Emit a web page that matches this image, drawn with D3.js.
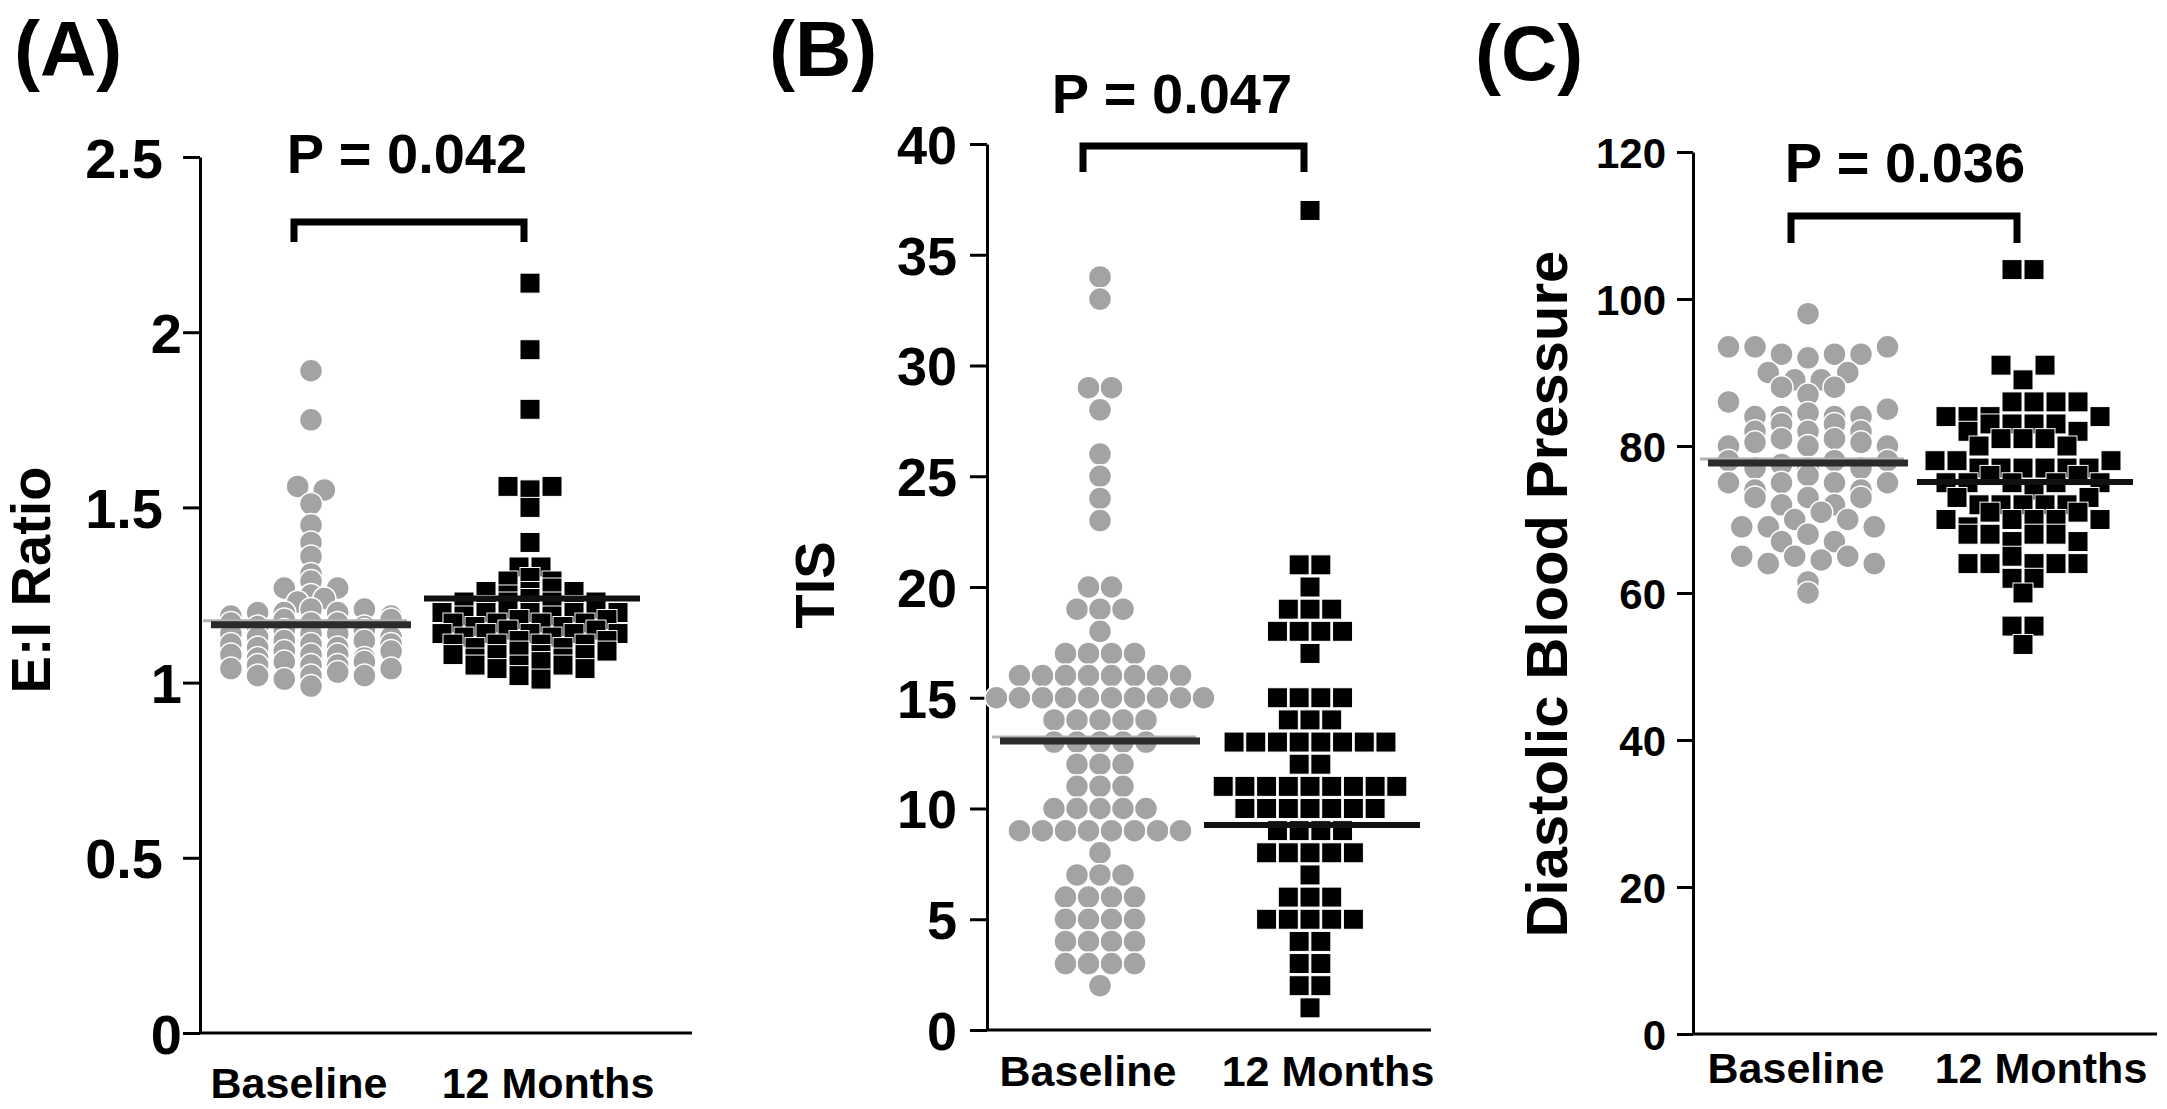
<!DOCTYPE html>
<html>
<head>
<meta charset="utf-8">
<script src="https://cdn.jsdelivr.net/npm/d3@7"></script>
<style>
  html, body { margin: 0; padding: 0; background: #fff; }
  svg text { font-family: "Liberation Sans", Arial, sans-serif; font-weight: bold; fill: #000; }
</style>
</head>
<body>
<svg id="chart" width="2167" height="1109"></svg>
<script>
const groups = ['Baseline', '12 Months'];

// (A) E:I ratio
const eiBaseline = [1.89, 1.75, 1.56, 1.55, 1.51, 1.45, 1.40, 1.36, 1.31, 1.29,
  1.27, 1.25, 1.27,
  1.23, 1.24,
  1.19, 1.20, 1.20, 1.21, 1.20, 1.21, 1.19,
  1.17, 1.16, 1.18, 1.17, 1.17, 1.16, 1.18,
  1.14, 1.13, 1.15, 1.14, 1.14, 1.15, 1.13,
  1.11, 1.10, 1.12, 1.11, 1.10, 1.12, 1.11,
  1.08, 1.07, 1.09, 1.08, 1.08, 1.07, 1.09,
  1.04, 1.05, 1.06, 1.05, 1.05, 1.06, 1.04,
  1.02, 1.01, 1.02, 1.03, 1.02,
  0.99];
const ei12Months = [2.14, 1.95, 1.78, 1.56, 1.55, 1.56, 1.50, 1.40, 1.33, 1.33, 1.29, 1.30, 1.29,
  1.26, 1.25, 1.26, 1.27, 1.26,
  1.23, 1.22, 1.23, 1.24, 1.23, 1.22, 1.23,
  1.20, 1.19, 1.20, 1.21, 1.20, 1.19, 1.20, 1.21, 1.20,
  1.17, 1.16, 1.17, 1.18, 1.17, 1.16, 1.17, 1.18,
  1.14, 1.13, 1.14, 1.15, 1.14, 1.13, 1.14, 1.15, 1.14,
  1.11, 1.10, 1.11, 1.12, 1.11, 1.10, 1.11, 1.12,
  1.08, 1.07, 1.08, 1.09, 1.08, 1.07, 1.08, 1.09,
  1.05, 1.04, 1.05, 1.06, 1.05, 1.04,
  1.02, 1.01];
const eiMeans = [1.165, 1.24];
const eiTicks = [0, 0.5, 1, 1.5, 2, 2.5];

// (B) TIS
const tisBaseline = [34, 33, 29, 29, 28, 26, 25, 24, 23, 20, 20, 19, 19, 19, 18,
  17, 17, 17, 17,
  16, 16, 16, 16, 16, 16, 16, 16,
  15, 15, 15, 15, 15, 15, 15, 15, 15, 15,
  14, 14, 14, 14, 14,
  13, 13, 13, 13, 13,
  12, 12, 12,
  11, 11, 11,
  10, 10, 10, 10, 10,
  9, 9, 9, 9, 9, 9, 9, 9,
  8,
  7, 7, 7,
  6, 6, 6, 6,
  5, 5, 5, 5,
  4, 4, 4, 4,
  3, 3, 3, 3,
  2];
const tis12Months = [37, 21, 21, 20, 19, 19, 19, 18, 18, 18, 18, 17,
  15, 15, 15, 15,
  14, 14, 14,
  13, 13, 13, 13, 13, 13, 13, 13,
  12, 12,
  11, 11, 11, 11, 11, 11, 11, 11, 11,
  10, 10, 10, 10, 10, 10, 10,
  9, 9, 9, 9,
  8, 8, 8, 8, 8,
  7,
  6, 6, 6,
  5, 5, 5, 5, 5,
  4, 4,
  3, 3,
  2, 2,
  1];
const tisMeans = [13.05, 9.25];
const tisTicks = [0, 5, 10, 15, 20, 25, 30, 35, 40];

// (C) Diastolic blood pressure
const dbpBaseline = [98,
  93.5, 93.5, 92.5, 92, 92.5, 92.5, 93.5,
  90, 89, 89, 90,
  88, 87, 88,
  86, 84, 84, 84.5, 84, 84, 85,
  82, 83, 82, 83, 82,
  80, 80.5, 81, 80, 81, 80.5, 80,
  78, 77, 77.5, 77, 78, 77, 78,
  75, 74, 75, 76, 75, 74, 75,
  73, 72, 73, 72, 73,
  69, 69, 70, 71, 70, 69,
  67, 68, 67,
  65, 64, 65, 64.5, 65, 64,
  61.5,
  60];
const dbp12Months = [104, 104,
  91, 89, 91,
  84, 84, 84, 86, 86, 86, 86, 84,
  82, 83, 83, 83, 83, 82,
  80, 81, 81, 81, 80,
  78, 78, 77, 77, 77, 77, 77, 77, 78,
  75, 75, 76, 75, 74, 75, 76, 75,
  73, 72, 72, 72, 72, 72, 73,
  70, 69, 71, 70, 70, 70, 71, 70,
  68, 68, 67, 68, 68, 67,
  64, 64, 65, 64, 64, 64,
  62, 62,
  60,
  55.5, 55.5,
  53];
const dbpMeans = [77.7, 75.1];
const dbpTicks = [0, 20, 40, 60, 80, 100, 120];

const panelLabels = ['(A)', '(B)', '(C)'];
const axisTitles = ['E:I Ratio', 'TIS', 'Diastolic Blood Pressure'];
const pValues = ['P = 0.042', 'P = 0.047', 'P = 0.036'];

// layout of the three panels (pixels)
const panels = [
  { base: eiBaseline, month: ei12Months, means: eiMeans, ticks: eiTicks, domain: [0, 2.5], step: 0.03,
    axisX: 200, xEnd: 692, yTop: 157, yBottom: 1033, band: [111, 330], tickLen: 17, tickFont: 56,
    gapCircle: 26.7, gapSquare: 22,
    labelPad: d => Number.isInteger(d) ? 1 : 20,
    label: { x: 14, y: 76 }, title: { x: 50, y: 580, size: 56 },
    p: { x: 407, y: 173 }, bracket: { y: 222, leg: 242 }, xLabelY: 1098 },
  { base: tisBaseline, month: tis12Months, means: tisMeans, ticks: tisTicks, domain: [0, 40], step: 1,
    axisX: 987, xEnd: 1431, yTop: 144, yBottom: 1030, band: [113, 323], tickLen: 17, tickFont: 54,
    gapCircle: 23, gapSquare: 21.7,
    labelPad: d => 13,
    label: { x: 769, y: 76 }, title: { x: 834, y: 585, size: 56 },
    p: { x: 1172, y: 113 }, bracket: { y: 146, leg: 172 }, xLabelY: 1086 },
  { base: dbpBaseline, month: dbp12Months, means: dbpMeans, ticks: dbpTicks, domain: [0, 120], step: 2.5,
    axisX: 1693, xEnd: 2157, yTop: 152, yBottom: 1034, band: [115, 330], tickLen: 16, tickFont: 42,
    gapCircle: 26.5, gapSquare: 22,
    labelPad: d => 11,
    label: { x: 1475, y: 80 }, title: { x: 1567, y: 594, size: 58 },
    p: { x: 1905, y: 182 }, bracket: { y: 216, leg: 243 }, xLabelY: 1083 }
];

// points with the same rounded value sit side by side in one row
function swarm (values, step, gap) {
  const rows = d3.group(values, v => Math.round(v / step + 1e-9));
  const out = [];
  rows.forEach(items => {
    items.forEach((v, k) => out.push({ v, dx: (k - (items.length - 1) / 2) * gap }));
  });
  return out;
}

const svg = d3.select('#chart');

panels.forEach((p, i) => {
  const g = svg.append('g');
  const y = d3.scaleLinear().domain(p.domain).range([p.yBottom, p.yTop]);
  const x = d3.scalePoint().domain(groups).range([p.axisX + p.band[0], p.axisX + p.band[1]]);

  // y axis
  const yAxis = d3.axisLeft(y)
    .tickValues(p.ticks)
    .tickSize(p.tickLen)
    .tickSizeOuter(0)
    .tickFormat(d3.format('~g'));
  const ax = g.append('g')
    .attr('transform', `translate(${p.axisX},0)`)
    .attr('font-family', null)
    .attr('font-size', null)
    .call(yAxis);
  ax.select('.domain').attr('stroke', '#000').attr('stroke-width', 3);
  ax.selectAll('.tick line').attr('stroke', '#000').attr('stroke-width', 3);
  ax.selectAll('.tick text')
    .attr('x', d => -(p.tickLen + p.labelPad(d)))
    .attr('dy', '0.36em')
    .style('font-size', p.tickFont + 'px');

  // x axis line and group labels
  g.append('line')
    .attr('x1', p.axisX).attr('x2', p.xEnd)
    .attr('y1', y(0)).attr('y2', y(0))
    .attr('stroke', '#000').attr('stroke-width', 3);
  g.selectAll('.xlabel')
    .data(groups)
    .join('text')
    .attr('class', 'xlabel')
    .attr('x', (d, k) => x(d) + (k === 0 ? -12 : 18))
    .attr('y', p.xLabelY)
    .attr('text-anchor', 'middle')
    .style('font-size', '43px')
    .text(d => d);

  // baseline: grey circles
  g.append('g').selectAll('circle')
    .data(swarm(p.base, p.step, p.gapCircle))
    .join('circle')
    .attr('cx', d => x(groups[0]) + d.dx)
    .attr('cy', d => y(d.v))
    .attr('r', 11.5)
    .attr('fill', '#a3a3a3')
    .attr('stroke', '#fff')
    .attr('stroke-width', 1.5);

  // 12 months: black squares
  g.append('g').selectAll('rect')
    .data(swarm(p.month, p.step, p.gapSquare))
    .join('rect')
    .attr('x', d => x(groups[1]) + d.dx - 10)
    .attr('y', d => y(d.v) - 10)
    .attr('width', 20)
    .attr('height', 20)
    .attr('fill', '#000')
    .attr('stroke', '#fff')
    .attr('stroke-width', 1);

  // mean lines
  const cb = x(groups[0]);
  const cm = x(groups[1]);
  g.append('line')
    .attr('x1', cb - 108).attr('x2', cb + 96)
    .attr('y1', y(p.means[0]) - 4).attr('y2', y(p.means[0]) - 4)
    .attr('stroke', '#b3b3b3').attr('stroke-width', 3);
  g.append('line')
    .attr('x1', cb - 100).attr('x2', cb + 100)
    .attr('y1', y(p.means[0])).attr('y2', y(p.means[0]))
    .attr('stroke', '#2b2b2b').attr('stroke-width', 7);
  g.append('line')
    .attr('x1', cm - 106).attr('x2', cm + 110)
    .attr('y1', y(p.means[1])).attr('y2', y(p.means[1]))
    .attr('stroke', '#111').attr('stroke-width', 6);

  // significance bracket
  const bx1 = cb - 17;
  const bx2 = cm - 6;
  g.append('path')
    .attr('d', `M${bx1},${p.bracket.leg}V${p.bracket.y}H${bx2}V${p.bracket.leg}`)
    .attr('fill', 'none')
    .attr('stroke', '#000')
    .attr('stroke-width', 7);
  g.append('text')
    .attr('x', p.p.x).attr('y', p.p.y)
    .attr('text-anchor', 'middle')
    .style('font-size', '56px')
    .text(pValues[i]);

  // axis title and panel letter
  g.append('text')
    .attr('transform', `translate(${p.title.x},${p.title.y}) rotate(-90)`)
    .attr('text-anchor', 'middle')
    .style('font-size', p.title.size + 'px')
    .text(axisTitles[i]);
  g.append('text')
    .attr('x', p.label.x).attr('y', p.label.y)
    .style('font-size', '78px')
    .text(panelLabels[i]);
});
</script>
</body>
</html>
